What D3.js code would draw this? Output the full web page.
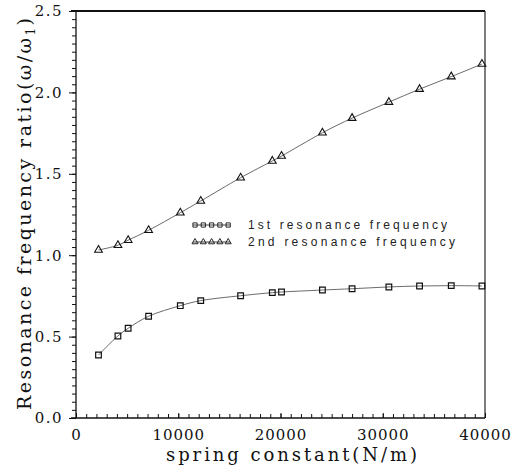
<!DOCTYPE html>
<html>
<head>
<meta charset="utf-8">
<script src="https://d3js.org/d3.v7.min.js"></script>
<style>
  body { margin: 0; background: #fff; }
  svg { display: block; }
  .serif { font-family: "DejaVu Serif", "Liberation Serif", "Noto Serif", "Times New Roman", serif; }
  .sans { font-family: "Liberation Sans", "DejaVu Sans", Arial, sans-serif; }
</style>
</head>
<body>
<div id="chart"></div>
<script>
// data
const springK = [2200, 4100, 5100, 7100, 10200, 12200, 16100, 19200, 20100, 24100, 27000, 30600, 33600, 36700, 39700];
const firstRatio = [0.387, 0.504, 0.551, 0.625, 0.690, 0.721, 0.751, 0.770, 0.774, 0.786, 0.794, 0.805, 0.811, 0.813, 0.811];
const secondRatio = [1.032, 1.061, 1.092, 1.153, 1.261, 1.333, 1.476, 1.579, 1.609, 1.752, 1.842, 1.940, 2.020, 2.097, 2.174];
const xTickLabels = [0, 10000, 20000, 30000, 40000];
const yTickLabels = [0, 0.5, 1.0, 1.5, 2.0, 2.5];
const legendLabels = ["1st resonance frequency", "2nd resonance frequency"];

const width = 522, height = 467;
const MARGIN = { top: 11, right: 37, bottom: 49, left: 76 };
const innerW = width - MARGIN.left - MARGIN.right;
const innerH = height - MARGIN.top - MARGIN.bottom;

const svg = d3.select('#chart').append('svg')
  .attr('width', width)
  .attr('height', height);

const g = svg.append('g')
  .attr('transform', `translate(${MARGIN.left},${MARGIN.top})`);

const x = d3.scaleLinear().domain([0, 40000]).range([0, innerW]);
const y = d3.scaleLinear().domain([0, 2.5]).range([innerH, 0]);

// minor ticks
g.append('g')
  .attr('transform', `translate(0,${innerH})`)
  .call(d3.axisBottom(x).tickValues(d3.range(0, 40001, 1000)).tickSize(-4).tickFormat(''))
  .call(a => a.select('.domain').remove());

g.append('g')
  .call(d3.axisLeft(y).tickValues(d3.range(0, 2.5001, 0.05)).tickSize(4).tickFormat(''))
  .call(a => a.select('.domain').remove());

// major ticks + labels
const xAxis = g.append('g')
  .attr('transform', `translate(0,${innerH})`)
  .call(d3.axisBottom(x).tickValues(xTickLabels).tickSize(-5).tickPadding(11).tickFormat(d => d));
xAxis.select('.domain').remove();
xAxis.selectAll('text')
  .attr('class', 'serif')
  .style('font-size', '15px')
  .attr('letter-spacing', 1)
  .attr('fill', '#111');

const yAxis = g.append('g')
  .call(d3.axisLeft(y).tickValues(yTickLabels).tickSize(7).tickPadding(6).tickFormat(d3.format('.1f')));
yAxis.select('.domain').remove();
yAxis.selectAll('text')
  .attr('class', 'serif')
  .style('font-size', '15px')
  .attr('letter-spacing', 1.5)
  .attr('fill', '#111');

xAxis.attr('font-family', null);
yAxis.attr('font-family', null);

g.selectAll('.tick line').attr('stroke', '#111').attr('stroke-width', 1);

// frame
g.append('line').attr('x1', -5).attr('x2', innerW).attr('y1', innerH).attr('y2', innerH)
  .attr('stroke', '#111').attr('stroke-width', 1.3);
g.append('line').attr('x1', 0).attr('x2', 0).attr('y1', 0).attr('y2', innerH)
  .attr('stroke', '#111').attr('stroke-width', 1.3);
g.append('line').attr('x1', -5).attr('x2', innerW).attr('y1', 0).attr('y2', 0)
  .attr('stroke', '#111').attr('stroke-width', 1.8);
g.append('line').attr('x1', innerW).attr('x2', innerW).attr('y1', 0).attr('y2', innerH)
  .attr('stroke', '#111').attr('stroke-width', 1.1);

// curves
const line = d3.line()
  .x(d => x(d[0]))
  .y(d => y(d[1]))
  .curve(d3.curveCatmullRom);

const first = springK.map((k, i) => [k, firstRatio[i]]);
const second = springK.map((k, i) => [k, secondRatio[i]]);

[first, second].forEach(series => {
  g.append('path')
    .attr('d', line(series))
    .attr('fill', 'none')
    .attr('stroke', '#444')
    .attr('stroke-width', 0.8);
});

const square = d3.symbol().type(d3.symbolSquare).size(32);
const triangle = d3.symbol().type(d3.symbolTriangle).size(26);

g.selectAll('.sq').data(first).join('path')
  .attr('class', 'sq')
  .attr('transform', d => `translate(${x(d[0])},${y(d[1])})`)
  .attr('d', square)
  .attr('fill', 'none')
  .attr('stroke', '#111')
  .attr('stroke-width', 1.2);

g.selectAll('.tri').data(second).join('path')
  .attr('class', 'tri')
  .attr('transform', d => `translate(${x(d[0])},${y(d[1])})`)
  .attr('d', triangle)
  .attr('fill', 'none')
  .attr('stroke', '#111')
  .attr('stroke-width', 1.1);

// legend
const legend = svg.append('g').attr('transform', 'translate(193,225)');
const legendSymbols = [d3.symbol().type(d3.symbolSquare).size(18), d3.symbol().type(d3.symbolTriangle).size(16)];
const legendLengths = [199, 207];
legendLabels.forEach((label, i) => {
  const row = legend.append('g').attr('transform', `translate(0,${i * 17})`);
  row.append('line').attr('x1', 0).attr('x2', 37).attr('y1', 0).attr('y2', 0)
    .attr('stroke', '#111').attr('stroke-width', 0.8);
  d3.range(5).forEach(j => {
    row.append('path')
      .attr('transform', `translate(${2 + j * 8.3},0)`)
      .attr('d', legendSymbols[i])
      .attr('fill', 'none')
      .attr('stroke', '#111')
      .attr('stroke-width', 0.9);
  });
  row.append('text')
    .attr('class', 'sans')
    .attr('x', 55)
    .attr('y', 4)
    .style('font-size', '12px')
    .attr('textLength', legendLengths[i])
    .attr('lengthAdjust', 'spacing')
    .attr('fill', '#222')
    .text(label);
});

// axis titles
svg.append('text')
  .attr('class', 'serif')
  .attr('x', 291.5)
  .attr('y', 461)
  .attr('text-anchor', 'middle')
  .style('font-size', '18px')
  .attr('textLength', 251)
  .attr('lengthAdjust', 'spacing')
  .attr('fill', '#111')
  .text('spring constant(N/m)');

const yTitle = svg.append('text')
  .attr('class', 'serif')
  .attr('transform', 'translate(31,214) rotate(-90)')
  .attr('text-anchor', 'middle')
  .style('font-size', '19px')
  .attr('textLength', 392)
  .attr('lengthAdjust', 'spacing')
  .attr('fill', '#111');
yTitle.append('tspan').text('Resonance frequency ratio(\u03c9/\u03c9');
yTitle.append('tspan').style('font-size', '12px').attr('dy', 4).text('1');
yTitle.append('tspan').attr('dy', -4).text(')');
</script>
</body>
</html>
